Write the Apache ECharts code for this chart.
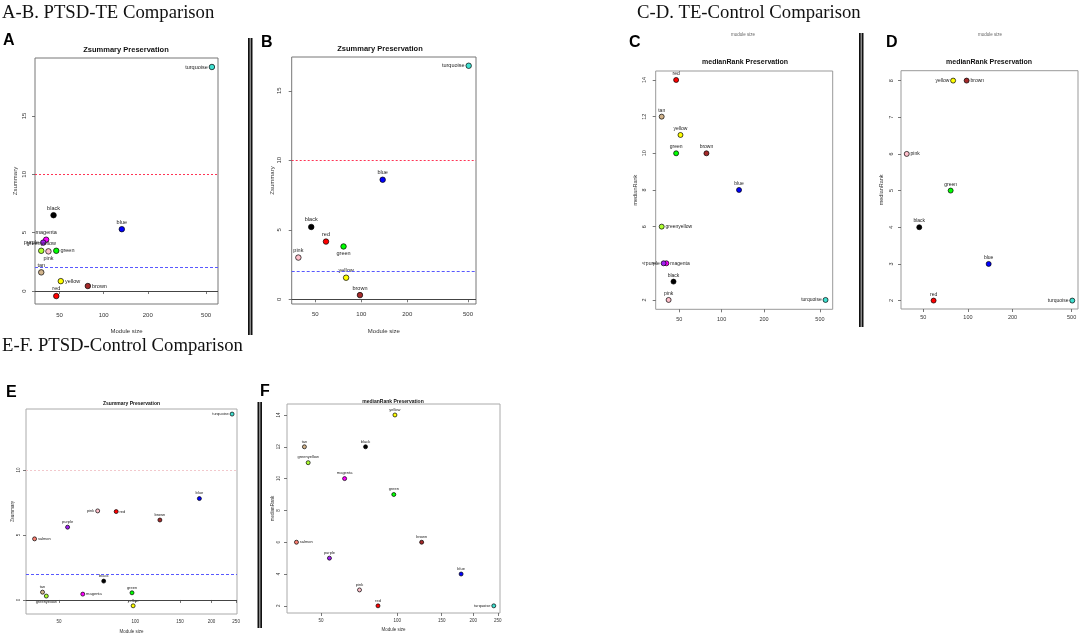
<!DOCTYPE html>
<html>
<head>
<meta charset="utf-8">
<script src="https://cdn.jsdelivr.net/npm/echarts@6/dist/echarts.min.js"></script>
<style>
  html, body { margin: 0; padding: 0; background: #fff; }
  #main { width: 1084px; height: 642px; }
</style>
</head>
<body>
<div id="main"></div>
<script>
// module sizes, PTSD network (panels A and C)
var modsPTSD = ["turquoise", "blue", "brown", "yellow", "green", "red", "black", "pink", "magenta", "purple", "greenyellow", "tan"];
var sizePTSD = [548, 133, 78, 51, 47.5, 47.5, 45.5, 42, 40.5, 38.7, 37.5, 37.5];
var zsumA = [19.2, 5.3, 0.43, 0.85, 3.45, -0.43, 6.5, 3.4, 4.4, 4.15, 3.45, 1.6];
var rankC = [2, 8, 10, 11, 10, 14, 3, 2, 4, 4, 6, 12];

// module sizes, TE network (panels B and D)
var modsTE = ["turquoise", "blue", "brown", "yellow", "green", "red", "black", "pink"];
var sizeTE = [505, 138, 98, 79.5, 76.5, 58.7, 47, 38.7];
var zsumB = [16.8, 8.6, 0.3, 1.55, 3.8, 4.15, 5.2, 3.0];
var rankD = [2, 3, 8, 8, 5, 2, 4, 6];

// module sizes, PTSD-Control (panels E and F)
var modsCtl = ["turquoise", "blue", "brown", "yellow", "green", "red", "black", "pink", "magenta", "purple", "greenyellow", "tan", "salmon"];
var sizeCtl = [241, 179, 125, 98, 97, 84, 75, 71, 62, 54, 44.5, 43, 40];
var zsumE = [14.3, 7.8, 6.15, -0.45, 0.55, 6.8, 1.45, 6.85, 0.45, 5.6, 0.3, 0.6, 4.7];
var rankF = [2, 4, 6, 14, 9, 2, 12, 3, 10, 5, 11, 12, 6];

// tick labels
var xTicksAD = [50, 100, 200, 500];
var xTicksEF = [50, 100, 150, 200, 250];
var yTicksZ = [0, 5, 10, 15];
var yTicksZE = [0, 5, 10];
var yTicksC = [2, 4, 6, 8, 10, 12, 14];
var yTicksD = [2, 3, 4, 5, 6, 7, 8];
var yTicksF = [2, 4, 6, 8, 10, 12, 14];

var rColors = {
  turquoise: "#40E0D0", blue: "#0000FF", brown: "#A52A2A", yellow: "#FFFF00",
  green: "#00FF00", red: "#FF0000", black: "#000000", pink: "#FFC0CB",
  magenta: "#FF00FF", purple: "#A020F0", greenyellow: "#ADFF2F", tan: "#D2B48C",
  salmon: "#FA8072"
};

var FONT = '"Liberation Sans", Arial, sans-serif';
var chart = echarts.init(document.getElementById("main"), null, { renderer: "canvas" });

var grids = [], xAxes = [], yAxes = [], series = [], graphics = [];

function refLine(i, y, style) {
  return {
    type: "line", xAxisIndex: i, yAxisIndex: i, data: [], z: 1, silent: true,
    markLine: {
      silent: true, symbol: "none", animation: false,
      label: { show: false },
      data: [{ yAxis: y }],
      lineStyle: style
    }
  };
}

function panel(p) {
  var i = grids.length;
  grids.push({
    left: p.box[0], top: p.box[1], width: p.box[2] - p.box[0], height: p.box[3] - p.box[1],
    show: true, borderColor: p.frame, borderWidth: 1, backgroundColor: "transparent"
  });
  xAxes.push({
    gridIndex: i, type: "log", logBase: 10, min: p.xr[0], max: p.xr[1],
    axisLine: { show: false }, splitLine: { show: false },
    axisTick: { show: true, inside: false, length: 3, customValues: p.xt, lineStyle: { color: "#555", width: 0.8 } },
    axisLabel: { customValues: p.xt, fontSize: p.fs, color: "#333", margin: p.xm, fontFamily: FONT },
    name: p.xname || "", nameLocation: "middle", nameGap: p.xng || 20,
    nameTextStyle: { fontSize: p.fs, color: "#333", fontFamily: FONT }
  });
  yAxes.push({
    gridIndex: i, type: "value", min: p.yr[0], max: p.yr[1],
    axisLine: { show: false }, splitLine: { show: false },
    axisTick: { show: true, inside: false, length: 3, customValues: p.yt, lineStyle: { color: "#555", width: 0.8 } },
    axisLabel: { customValues: p.yt, fontSize: p.fs, color: "#333", margin: p.ym, rotate: 90, fontFamily: FONT },
    name: p.yname, nameLocation: "middle", nameGap: p.yng, nameRotate: 90,
    nameTextStyle: { fontSize: p.fs, color: "#333", fontFamily: FONT }
  });
  var data = p.mods.map(function (m, k) {
    return {
      name: m, value: [p.sizes[k], p.vals[k]],
      itemStyle: { color: rColors[m] },
      label: { position: (p.lpos && p.lpos[m]) || "top" }
    };
  });
  series.push({
    type: "scatter", xAxisIndex: i, yAxisIndex: i, data: data,
    symbolSize: p.sym, z: 3,
    itemStyle: { borderColor: "#000", borderWidth: 0.7, opacity: 1 },
    label: { show: true, formatter: "{b}", fontSize: p.lfs, color: "#222", distance: 1, fontFamily: FONT }
  });
  if (p.lines) {
    series.push(refLine(i, 10, { color: p.redLine || "#FF3355", type: [2, 2], width: 1, opacity: 1 }));
    series.push(refLine(i, 2, { color: "#5858FF", type: [3, 2], width: 1.1, opacity: 1 }));
    series.push(refLine(i, 0, { color: "#444", type: "solid", width: 1, opacity: 1 }));
  }
  graphics.push({
    type: "text", x: p.title[1], y: p.title[2], z: 10,
    style: { text: p.title[0], font: "bold " + p.tfs + "px " + FONT, fill: "#111", align: "center", verticalAlign: "middle" }
  });
}

panel({
  box: [35, 58, 218, 304], xr: [34, 603], yr: [-1.11, 19.97], xt: xTicksAD, yt: yTicksZ,
  mods: modsPTSD, sizes: sizePTSD, vals: zsumA, lines: true, frame: "#777",
  fs: 6, lfs: 5.5, sym: 5.5, xm: 8, ym: 8, yname: "Zsummary", yng: 17, xname: "Module size", xng: 24,
  title: ["Zsummary Preservation", 126, 49.5], tfs: 7.5,
  lpos: { turquoise: "left", brown: "right", yellow: "right", green: "right", magenta: "top", pink: "bottom", purple: "left" }
});
panel({
  box: [291.7, 57, 476, 304], xr: [35, 564], yr: [-0.34, 17.43], xt: xTicksAD, yt: yTicksZ,
  mods: modsTE, sizes: sizeTE, vals: zsumB, lines: true, frame: "#777",
  fs: 6, lfs: 5.5, sym: 5.5, xm: 7, ym: 9, yname: "Zsummary", yng: 15, xname: "Module size", xng: 24,
  title: ["Zsummary Preservation", 380, 48.5], tfs: 7.5,
  lpos: { turquoise: "left", green: "bottom" }
});
panel({
  box: [655.7, 71, 832.7, 309.3], xr: [34, 616], yr: [1.49, 14.49], xt: xTicksAD, yt: yTicksC,
  mods: modsPTSD, sizes: sizePTSD, vals: rankC, lines: false, frame: "#999",
  fs: 5.5, lfs: 5, sym: 5, xm: 7, ym: 8, yname: "medianRank", yng: 17,
  title: ["medianRank Preservation", 745, 62.5], tfs: 7,
  lpos: { turquoise: "left", greenyellow: "right", purple: "left", magenta: "right" }
});
panel({
  box: [901, 70.7, 1078, 309], xr: [35.4, 552], yr: [1.77, 8.27], xt: xTicksAD, yt: yTicksD,
  mods: modsTE, sizes: sizeTE, vals: rankD, lines: false, frame: "#999",
  fs: 5.5, lfs: 5, sym: 5, xm: 5, ym: 7, yname: "medianRank", yng: 17,
  title: ["medianRank Preservation", 989, 62], tfs: 7,
  lpos: { turquoise: "left", yellow: "left", brown: "right", pink: "right" }
});
panel({
  box: [26, 409, 237, 614], xr: [37, 252], yr: [-1.08, 14.69], xt: xTicksEF, yt: yTicksZE,
  mods: modsCtl, sizes: sizeCtl, vals: zsumE, lines: true, frame: "#aaa", redLine: "#f2c8cc",
  fs: 4.5, lfs: 4, sym: 4, xm: 5, ym: 5, yname: "Zsummary", yng: 8, xname: "Module size", xng: 15,
  title: ["Zsummary Preservation", 131.5, 403.5], tfs: 5,
  lpos: { turquoise: "left", red: "right", pink: "left", salmon: "right", greenyellow: "bottom", magenta: "right" }
});
panel({
  box: [287, 404, 500, 613], xr: [36.7, 255], yr: [1.55, 14.69], xt: xTicksEF, yt: yTicksF,
  mods: modsCtl, sizes: sizeCtl, vals: rankF, lines: false, frame: "#aaa",
  fs: 4.5, lfs: 4, sym: 4, xm: 5, ym: 6, yname: "medianRank", yng: 11, xname: "Module size", xng: 14,
  title: ["medianRank Preservation", 393, 402], tfs: 5,
  lpos: { turquoise: "left", salmon: "right" }
});

// section headings and panel letters
var SERIF = '"Liberation Serif", "Times New Roman", serif';
[["A-B. PTSD-TE Comparison", 2, 4], ["C-D. TE-Control Comparison", 637, 4], ["E-F. PTSD-Control Comparison", 2, 337]].forEach(function (h) {
  graphics.push({ type: "text", x: h[1], y: h[2], style: { text: h[0], font: "18.7px " + SERIF, fill: "#111" } });
});
[["A", 3, 33], ["B", 261, 35], ["C", 629, 35], ["D", 886, 35], ["E", 6, 385], ["F", 260, 384]].forEach(function (l) {
  graphics.push({ type: "text", x: l[1], y: l[2], style: { text: l[0], font: "bold 16px " + FONT, fill: "#000" } });
});
// leftover axis captions above C and D
[["module size", 743, 35], ["module size", 990, 35]].forEach(function (t) {
  graphics.push({ type: "text", x: t[1], y: t[2], style: { text: t[0], font: "4.5px " + FONT, fill: "#666", align: "center", verticalAlign: "middle" } });
});
// double vertical separators
[[248, 38, 297], [859, 33, 294], [257.5, 402, 226]].forEach(function (r) {
  graphics.push({ type: "rect", shape: { x: r[0], y: r[1], width: 4.5, height: r[2] }, style: { fill: "#111" } });
  graphics.push({ type: "rect", shape: { x: r[0] + 1.6, y: r[1], width: 1.3, height: r[2] }, style: { fill: "#999" } });
});

var option = {
  animation: false,
  backgroundColor: "#fff",
  grid: grids,
  xAxis: xAxes,
  yAxis: yAxes,
  series: series,
  graphic: graphics
};

option && chart.setOption(option);
</script>
</body>
</html>
